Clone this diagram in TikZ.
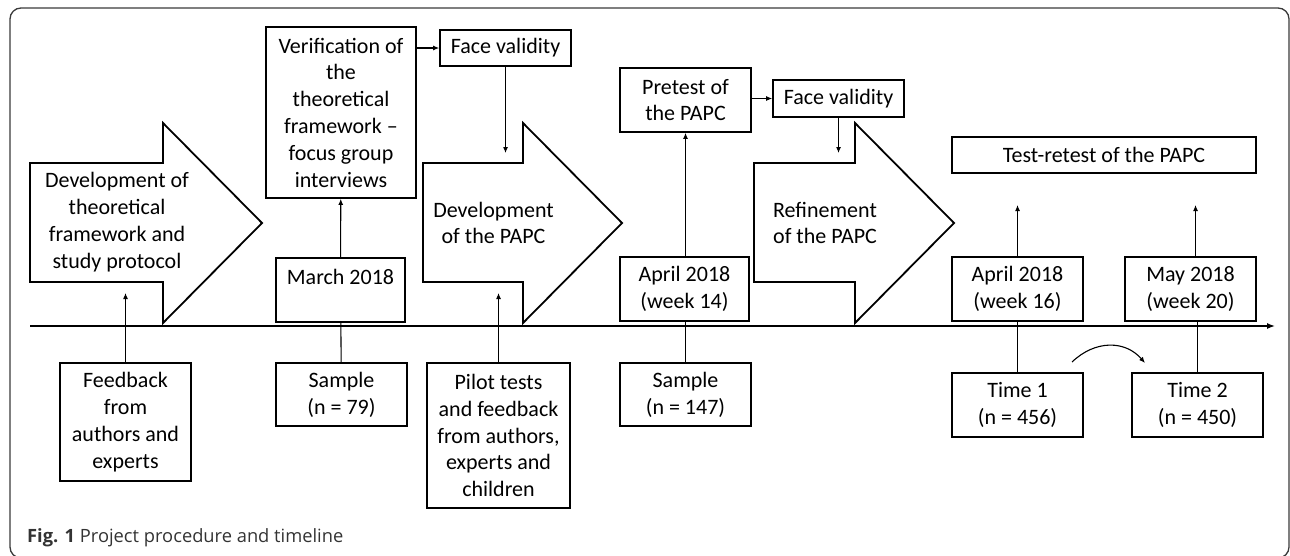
\documentclass[tikz,border=0pt]{standalone}
\usepackage{fontspec}
\setmainfont{Carlito}
\newfontfamily\capfont{Open Sans}
\usetikzlibrary{arrows.meta, positioning}
\definecolor{framegray}{HTML}{3A3A3A}
\definecolor{capgray}{HTML}{333333}
\newcommand{\boxfont}{\fontsize{22}{26.8}\selectfont}

\begin{document}
\begin{tikzpicture}[
    x=1pt, y=-1pt,
    box/.style    = {
      rectangle, draw=black, line width=1.6pt,
      align=center, inner sep=0pt,
      minimum width=131pt, minimum height=64pt, font=\boxfont
    },
    blockarrow/.style = {draw=black, line width=1.8pt, line join=miter},
    blocktext/.style  = {align=center, font=\boxfont},
    conn/.style   = {-{Latex[length=6pt,width=5pt]}, line width=1.1pt},
    link/.style   = {line width=1.1pt},
    timeline/.style = {-{Latex[length=8pt,width=6pt]}, line width=1.4pt}
  ]
  \useasboundingbox (0,0) rectangle (1290,555);
  \draw[framegray, line width=1.3pt, rounded corners=11pt] (10,8) rectangle (1289,558);

  % Timeline
  \coordinate (tstart) at (30,326);
  \coordinate (tend)   at (1275,326);
  \draw[timeline] (tstart) -- (tend);

  % Block arrows
  \draw[blockarrow] (30,163) -- (163,163) -- (163,123) -- (262,223)
                    -- (163,323) -- (163,282) -- (30,282) -- cycle;
  \draw[blockarrow] (423,163) -- (523,163) -- (523,123) -- (622,223)
                    -- (523,323) -- (523,282) -- (423,282) -- cycle;
  \draw[blockarrow] (754,163) -- (855,163) -- (855,123) -- (954,223)
                    -- (855,323) -- (855,282) -- (754,282) -- cycle;
  \node[blocktext] at (117,222)   (devframe) {Development of\\theoretical\\framework and\\study protocol};
  \node[blocktext] at (493.5,223) (devpapc)  {Development\\of the PAPC};
  \node[blocktext] at (825,223)   (refine)   {Refinement\\of the PAPC};

  % Upper boxes
  \node[box, minimum width=150pt, minimum height=171pt] at (341,112.5) (verif)
       {Verification of\\the\\theoretical\\framework --\\focus group\\interviews};
  \node[box, minimum height=36pt] at (505.5,48)  (face1)   {Face validity};
  \node[box]                      at (685.5,100) (pretest) {Pretest of\\the PAPC};
  \node[box, minimum height=37pt] at (838.5,98.5) (face2)  {Face validity};
  \node[box, minimum width=304pt, minimum height=36pt] at (1104,155) (retest)
       {Test-retest of the PAPC};

  % Dates on the timeline
  \node[box, minimum width=129pt] at (340.5,290)  (march)   {March 2018\\\mbox{}};
  \node[box, minimum width=129pt] at (684.5,289)  (april14) {April 2018\\(week 14)};
  \node[box]                      at (1017.5,289) (april16) {April 2018\\(week 16)};
  \node[box]                      at (1190.5,289) (may)     {May 2018\\(week 20)};

  % Lower boxes
  \node[box, minimum height=118pt] at (125.5,422)  (feedback)
       {Feedback\\from\\authors and\\experts};
  \node[box, minimum height=63pt]  at (341.5,394.5) (sample79)  {Sample\\(n = 79)};
  \node[box, minimum width=143pt, minimum height=145pt] at (498.5,435.5) (pilot)
       {Pilot tests\\and feedback\\from authors,\\experts and\\children};
  \node[box, minimum height=63pt]  at (685.5,394.5) (sample147) {Sample\\(n = 147)};
  \node[box]                       at (1017.5,405)  (time1)     {Time 1\\(n = 456)};
  \node[box]                       at (1197.5,405)  (time2)     {Time 2\\(n = 450)};

  % Free ends of connectors
  \coordinate (devframe-in) at (125.5,293);
  \coordinate (devpapc-top) at (505.5,153);
  \coordinate (devpapc-in)  at (498.5,293);
  \coordinate (refine-top)  at (838.5,153);
  \coordinate (t1-up)       at (1017.5,205);
  \coordinate (t2-up)       at (1195.5,205);
  \coordinate (swap-a)      at (1072,362);
  \coordinate (swap-b)      at (1145,363);

  % Connectors
  \draw[conn] (feedback) -- (devframe-in);
  \draw[conn] (march) -- (verif);
  \draw[link] (march) -- (sample79);
  \draw[conn] (verif.east |- face1.west) -- (face1.west);
  \draw[conn] (face1) -- (devpapc-top);
  \draw[conn] (pilot) -- (devpapc-in);
  \draw[conn] (april14.north -| pretest) -- (pretest);
  \draw[link] (april14.south -| sample147) -- (sample147);
  \draw[conn] (pretest.east |- face2.west) -- (face2.west);
  \draw[conn] (face2) -- (refine-top);
  \draw[conn] (april16) -- (t1-up);
  \draw[conn] (may.north -| t2-up) -- (t2-up);
  \draw[link] (april16) -- (time1);
  \draw[link] (may.south -| time2) -- (time2);
  \draw[conn] (swap-a) .. controls (1095,340) and (1125,340) .. (swap-b);

  % Caption
  \node[anchor=base west, inner sep=0pt, text=capgray,
        font=\capfont\fontsize{18.3}{22}\selectfont]
       at (27,542) (caption) {\textbf{Fig. 1} Project procedure and timeline};
\end{tikzpicture}
\end{document}
